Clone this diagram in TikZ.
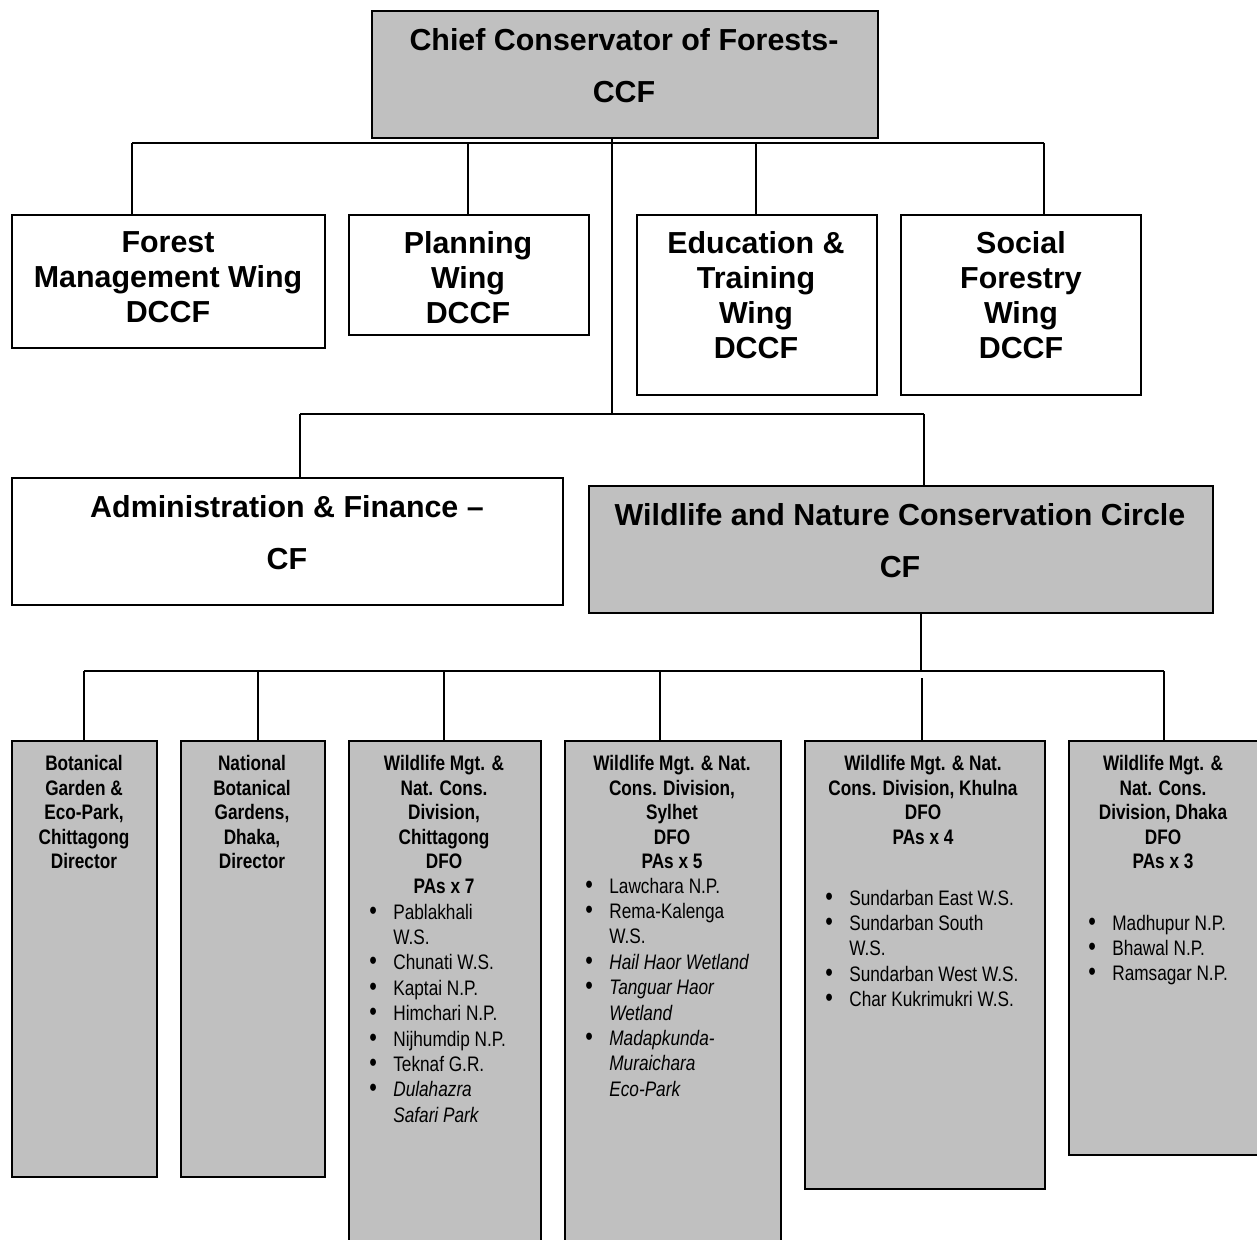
\documentclass[tikz,border=0pt]{standalone}
\usepackage{fontspec}
\setmainfont{Liberation Sans}
\newfontfamily\narrowfont[FakeStretch=0.82]{Liberation Sans}
\usepackage{xcolor}
\usepackage{tikz}
\definecolor{boxgray}{RGB}{192,192,192}
\newcommand{\pab}{{\fontsize{15}{15}\selectfont\textbullet}}

\begin{document}
\begin{tikzpicture}[x=0.02cm, y=-0.02cm]
        \tikzset{
            box/.style={draw, rectangle, anchor=north west, inner sep=0pt, line width=1pt},
            graybox/.style={box, fill=boxgray},
            whitebox/.style={box, fill=white},
            bigtext/.style={anchor=north, align=center, inner sep=0pt, font=\bfseries\fontsize{17.3}{19.92}\selectfont},
            widetext/.style={bigtext, font=\bfseries\fontsize{17.3}{29.88}\selectfont},
            divtext/.style={anchor=north, align=center, inner sep=0pt, font=\narrowfont\bfseries\fontsize{11.95}{13.94}\selectfont},
            palist/.style={anchor=north west, inner sep=0pt, font=\narrowfont\fontsize{11.95}{14.45}\selectfont},
            link/.style={line width=0.8pt}
        }
        \useasboundingbox (0,0) rectangle (1257,1240);
        \clip (0,0) rectangle (1257,1240);

        % Top level
        \node [graybox, minimum width=10.12cm, minimum height=2.54cm] (ccf) at (371,10) {};
        \node [widetext] (ccf_txt) at (624,28) {Chief Conservator of Forests-\\CCF};

        % Wings
        \node [whitebox, minimum width=6.26cm, minimum height=2.66cm] (fmw) at (11,214) {};
        \node [bigtext] (fmw_txt) at (168,231) {Forest\\Management Wing\\DCCF};
        \node [whitebox, minimum width=4.80cm, minimum height=2.40cm] (plw) at (348,214) {};
        \node [bigtext] (plw_txt) at (468,231) {Planning\\Wing\\DCCF};
        \node [whitebox, minimum width=4.80cm, minimum height=3.60cm] (etw) at (636,214) {};
        \node [bigtext] (etw_txt) at (756,231) {Education \&\\Training\\Wing\\DCCF};
        \node [whitebox, minimum width=4.80cm, minimum height=3.60cm] (sfw) at (900,214) {};
        \node [bigtext] (sfw_txt) at (1021,231) {Social\\Forestry\\Wing\\DCCF};

        % Circles
        \node [whitebox, minimum width=11.02cm, minimum height=2.54cm] (adm) at (11,477) {};
        \node [widetext] (adm_txt) at (287,495) {Administration \& Finance \textendash\\CF};
        \node [graybox, minimum width=12.48cm, minimum height=2.54cm] (wnc) at (588,485) {};
        \node [widetext] (wnc_txt) at (900,503) {Wildlife and Nature Conservation Circle\\CF};

        % Divisions
        \node [graybox, minimum width=2.90cm, minimum height=8.72cm] (bgc) at (11,740) {};
        \node [divtext] (bgc_txt) at (84,755) {Botanical\\Garden \&\\Eco-Park,\\Chittagong\\Director};
        \node [graybox, minimum width=2.88cm, minimum height=8.72cm] (nbg) at (180,740) {};
        \node [divtext] (nbg_txt) at (252,755) {National\\Botanical\\Gardens,\\Dhaka,\\Director};
        \node [graybox, minimum width=3.84cm, minimum height=10.40cm] (ctg) at (348,740) {};
        \node [divtext] (ctg_txt) at (444,755) {Wildlife Mgt. \&\\Nat. Cons.\\Division,\\Chittagong\\DFO\\PAs x 7};
        \node [graybox, minimum width=4.32cm, minimum height=10.40cm] (syl) at (564,740) {};
        \node [divtext] (syl_txt) at (672,755) {Wildlife Mgt. \& Nat.\\Cons. Division,\\Sylhet\\DFO\\PAs x 5};
        \node [graybox, minimum width=4.80cm, minimum height=8.96cm] (khl) at (804,740) {};
        \node [divtext] (khl_txt) at (923,755) {Wildlife Mgt. \& Nat.\\Cons. Division, Khulna\\DFO\\PAs x 4};
        \node [graybox, minimum width=3.84cm, minimum height=8.28cm] (dhk) at (1068,740) {};
        \node [divtext] (dhk_txt) at (1163,755) {Wildlife Mgt. \&\\Nat. Cons.\\Division, Dhaka\\DFO\\PAs x 3};

        % Protected areas
        \node [palist] (ctg_list) at (369,901) {\begin{tabular}{@{}p{0.48cm}@{}l@{}}
            \pab & Pablakhali\\ & W.S.\\
            \pab & Chunati W.S.\\
            \pab & Kaptai N.P.\\
            \pab & Himchari N.P.\\
            \pab & Nijhumdip N.P.\\
            \pab & Teknaf G.R.\\
            \pab & \textit{Dulahazra}\\ & \textit{Safari Park}
        \end{tabular}};
        \node [palist] (syl_list) at (585,875) {\begin{tabular}{@{}p{0.48cm}@{}l@{}}
            \pab & Lawchara N.P.\\
            \pab & Rema-Kalenga\\ & W.S.\\
            \pab & \textit{Hail Haor Wetland}\\
            \pab & \textit{Tanguar Haor}\\ & \textit{Wetland}\\
            \pab & \textit{Madapkunda-}\\ & \textit{Muraichara}\\ & \textit{Eco-Park}
        \end{tabular}};
        \node [palist] (khl_list) at (825,887) {\begin{tabular}{@{}p{0.48cm}@{}l@{}}
            \pab & Sundarban East W.S.\\
            \pab & Sundarban South\\ & W.S.\\
            \pab & Sundarban West W.S.\\
            \pab & Char Kukrimukri W.S.
        \end{tabular}};
        \node [palist] (dhk_list) at (1088,912) {\begin{tabular}{@{}p{0.48cm}@{}l@{}}
            \pab & Madhupur N.P.\\
            \pab & Bhawal N.P.\\
            \pab & Ramsagar N.P.
        \end{tabular}};

        % Junctions
        \coordinate (bus_top) at (612,143);
        \coordinate (bus_mid) at (612,414);
        \coordinate (bus_low) at (921,671);
        \coordinate (j_fmw) at (132,143);
        \coordinate (j_plw) at (468,143);
        \coordinate (j_etw) at (756,143);
        \coordinate (j_sfw) at (1044,143);
        \coordinate (j_adm) at (300,414);
        \coordinate (j_wnc) at (924,414);
        \coordinate (j_bgc) at (84,671);
        \coordinate (j_nbg) at (258,671);
        \coordinate (j_ctg) at (444,671);
        \coordinate (j_syl) at (660,671);
        \coordinate (j_khl) at (922,678);
        \coordinate (j_dhk) at (1164,671);

        % Connections
        \draw [link] (ccf.south -| bus_top) -- (bus_mid);
        \draw [link] (j_fmw) -- (j_sfw);
        \foreach \n in {fmw,plw,etw,sfw}
            \draw [link] (j_\n) -- (\n.north -| j_\n);
        \draw [link] (j_adm) -- (j_wnc);
        \foreach \n in {adm,wnc}
            \draw [link] (j_\n) -- (\n.north -| j_\n);
        \draw [link] (wnc.south -| bus_low) -- (bus_low);
        \draw [link] (j_bgc) -- (j_dhk);
        \foreach \n in {bgc,nbg,ctg,syl,khl,dhk}
            \draw [link] (j_\n) -- (\n.north -| j_\n);
    \end{tikzpicture}
\end{document}
